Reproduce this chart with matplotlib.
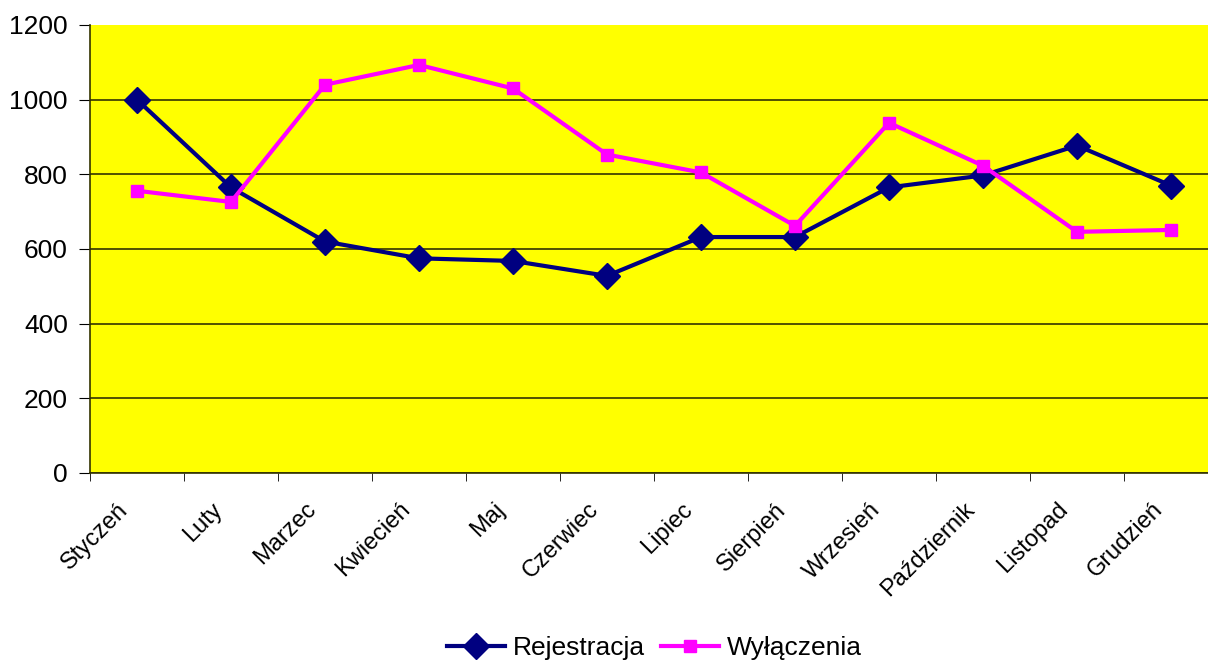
import numpy as np
import matplotlib.pyplot as plt
import matplotlib.transforms as mtransforms

plt.rcParams['font.family'] = ['Liberation Sans', 'DejaVu Sans']

months = ['Styczeń', 'Luty', 'Marzec', 'Kwiecień', 'Maj', 'Czerwiec',
          'Lipiec', 'Sierpień', 'Wrzesień', 'Październik', 'Listopad', 'Grudzień']
rejestracja = [1000, 765, 620, 575, 568, 528, 632, 632, 765, 797, 877, 770]
wylaczenia = [756, 726, 1040, 1093, 1030, 853, 805, 662, 938, 823, 646, 651]
yticks = [0, 200, 400, 600, 800, 1000, 1200]


def main():
    fig = plt.figure(figsize=(12.08, 6.61), dpi=100)
    ax = fig.add_axes([90 / 1208, 188 / 661, 1 - 90 / 1208, 448 / 661])
    ax.set_facecolor('#FFFF00')

    x = np.arange(len(months))
    ax.plot(x, rejestracja, color='#000080', lw=3, marker='D', ms=13,
            label='Rejestracja', zorder=3)
    ax.plot(x, wylaczenia, color='#FF00FF', lw=3, marker='s', ms=9,
            label='Wyłączenia', zorder=3)

    ax.set_yticks(yticks)
    ax.set_ylim(0, 1200)
    ax.set_xticks(x)
    ax.set_xticklabels(months, rotation=45, ha='right', va='center',
                       rotation_mode='anchor')
    ax.set_xticks(np.arange(-0.5, 11, 1), minor=True)
    ax.set_xlim(-0.5, 11.5 - 10 / 94)
    ax.tick_params(axis='x', which='major', length=0, pad=24, labelsize=17)
    ax.tick_params(axis='x', which='minor', length=6, direction='out')
    ax.tick_params(axis='y', length=8, direction='out', labelsize=19, pad=8)
    shift = mtransforms.ScaledTranslation(-12 / 100, 0, fig.dpi_scale_trans)
    for lab in ax.get_xticklabels():
        lab.set_transform(lab.get_transform() + shift)

    ax.yaxis.grid(True, color='#333300', lw=1.2)
    ax.get_ygridlines()[-1].set_visible(False)
    ax.set_axisbelow(True)
    for s in ['top', 'right']:
        ax.spines[s].set_visible(False)
    for s in ['left', 'bottom']:
        ax.spines[s].set_color('#333300')
        ax.spines[s].set_linewidth(1.2)

    fig.legend(loc='lower center', bbox_to_anchor=(0.542, -0.035), ncol=2,
               frameon=False, fontsize=19, handlelength=2.2, columnspacing=0.6,
               handletextpad=0.3)

    fig.savefig('out.png', dpi=100)


if __name__ == "__main__":
    main()
